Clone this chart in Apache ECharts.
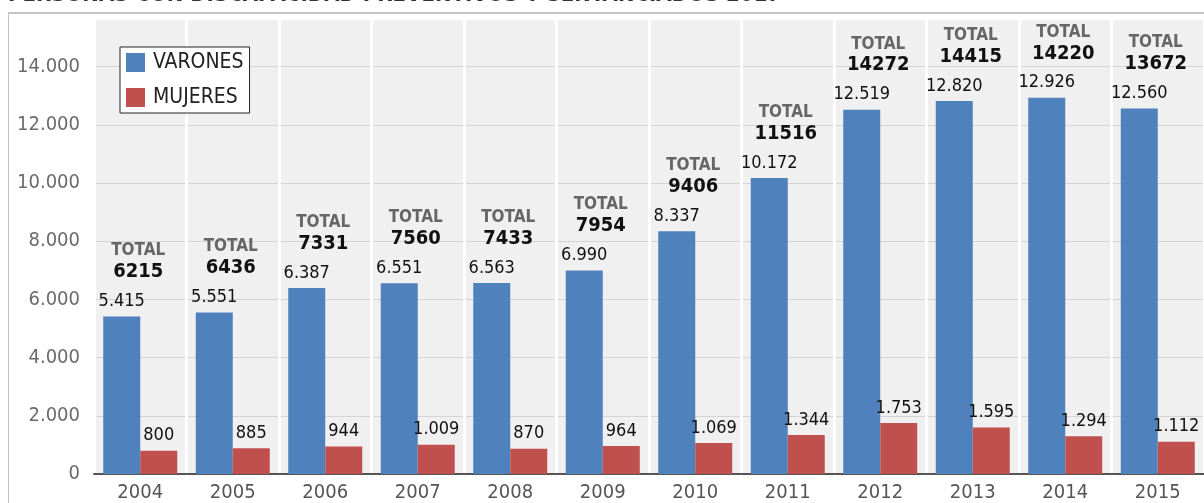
<!DOCTYPE html>
<html>
<head>
<meta charset="utf-8">
<title>Personas con discapacidad</title>
<script src="https://cdn.jsdelivr.net/npm/echarts@6/dist/echarts.min.js"></script>
<style>
    html, body { margin: 0; padding: 0; background: #fff; }
    #main { width: 1204px; height: 503px; }
</style>
</head>
<body>
<div id="main"></div>
<script>
var years = ['2004', '2005', '2006', '2007', '2008', '2009', '2010', '2011', '2012', '2013', '2014', '2015'];
var varones = [5415, 5551, 6387, 6551, 6563, 6990, 8337, 10172, 12519, 12820, 12926, 12560];
var mujeres = [800, 885, 944, 1009, 870, 964, 1069, 1344, 1753, 1595, 1294, 1112];
var totales = [6215, 6436, 7331, 7560, 7433, 7954, 9406, 11516, 14272, 14415, 14220, 13672];
var yTicks = [0, 2000, 4000, 6000, 8000, 10000, 12000, 14000];

var FONT = "'Liberation Sans Narrow', 'DejaVu Sans Condensed', 'Liberation Sans', sans-serif";

// separador de miles con punto
function miles(v) {
    return String(v).replace(/\B(?=(\d{3})+(?!\d))/g, '.');
}

var chart = echarts.init(document.getElementById('main'));

var option = {
    animation: false,
    backgroundColor: '#fff',
    textStyle: { fontFamily: FONT },
    graphic: [
        {
            type: 'text',
            left: 8,
            top: -16,
            style: {
                text: 'PERSONAS CON DISCAPACIDAD PREVENTIVOS Y SENTANCIADOS 2017',
                font: 'bold 22px ' + FONT,
                fill: '#333'
            }
        },
        {
            type: 'line',
            shape: { x1: 8, y1: 13, x2: 1204, y2: 13 },
            style: { stroke: '#c4c4c4', lineWidth: 2 }
        },
        {
            type: 'line',
            shape: { x1: 8.5, y1: 12, x2: 8.5, y2: 503 },
            style: { stroke: '#c4c4c4', lineWidth: 1 }
        }
    ],
    legend: {
        data: ['VARONES', 'MUJERES'],
        orient: 'vertical',
        left: 120,
        top: 47,
        icon: 'rect',
        itemWidth: 19,
        itemHeight: 19,
        itemGap: 14,
        padding: [5, 6, 5, 6],
        backgroundColor: '#fff',
        borderColor: '#222',
        borderWidth: 1,
        textStyle: { fontFamily: FONT, fontSize: 21, color: '#222', padding: [0, 0, 0, 3] }
    },
    grid: {
        left: 94,
        right: 0,
        top: 20,
        bottom: 29,
        containLabel: false,
        outerBoundsMode: 'none',
        show: true,
        backgroundColor: '#f0f0f0',
        borderWidth: 0
    },
    xAxis: {
        type: 'category',
        data: years,
        axisLine: { lineStyle: { color: '#555', width: 2 } },
        axisTick: { show: false },
        axisLabel: { color: '#555', fontSize: 20, fontFamily: FONT, margin: 9 },
        splitLine: { show: true, lineStyle: { color: '#fff', width: 3 } }
    },
    yAxis: {
        type: 'value',
        min: 0,
        max: 15600,
        interval: 2000,
        axisLine: { show: false },
        axisTick: { show: false },
        axisLabel: {
            color: '#6b6b6b',
            fontSize: 20,
            fontFamily: FONT,
            margin: 14,
            formatter: function (v) {
                return yTicks.indexOf(v) >= 0 ? miles(v) : '';
            }
        },
        splitLine: {
            lineStyle: {
                color: ['#d4d4d4', '#d4d4d4', '#d4d4d4', '#d4d4d4', '#d4d4d4', '#d4d4d4', '#d4d4d4', '#d4d4d4', 'rgba(0,0,0,0)']
            }
        }
    },
    series: [
        {
            name: 'VARONES',
            type: 'bar',
            data: varones,
            barWidth: 37,
            barGap: '0%',
            itemStyle: { color: '#4F81BD' },
            label: {
                show: true,
                position: 'top',
                distance: 6,
                color: '#111',
                fontSize: 18,
                fontFamily: FONT,
                formatter: function (p) { return miles(p.value); }
            }
        },
        {
            name: 'MUJERES',
            type: 'bar',
            data: mujeres,
            barWidth: 37,
            barGap: '0%',
            itemStyle: { color: '#C0504D' },
            label: {
                show: true,
                position: 'top',
                distance: 6,
                color: '#111',
                fontSize: 18,
                fontFamily: FONT,
                formatter: function (p) { return miles(p.value); }
            }
        },
        {
            // etiqueta TOTAL encima de cada año
            name: 'TOTAL',
            type: 'line',
            data: varones,
            symbol: 'circle',
            symbolSize: 1,
            itemStyle: { color: 'rgba(0,0,0,0)' },
            lineStyle: { opacity: 0 },
            silent: true,
            z: 5,
            label: {
                show: true,
                position: 'top',
                distance: 33,
                offset: [-2, 0],
                formatter: function (p) {
                    return '{t|TOTAL}\n{n|' + totales[p.dataIndex] + '}';
                },
                rich: {
                    t: { fontFamily: FONT, fontWeight: 'bold', fontSize: 17, color: '#666', lineHeight: 20, align: 'center' },
                    n: { fontFamily: FONT, fontWeight: 'bold', fontSize: 20, color: '#111', lineHeight: 22, align: 'center' }
                }
            }
        }
    ]
};

chart.setOption(option);
</script>
</body>
</html>
